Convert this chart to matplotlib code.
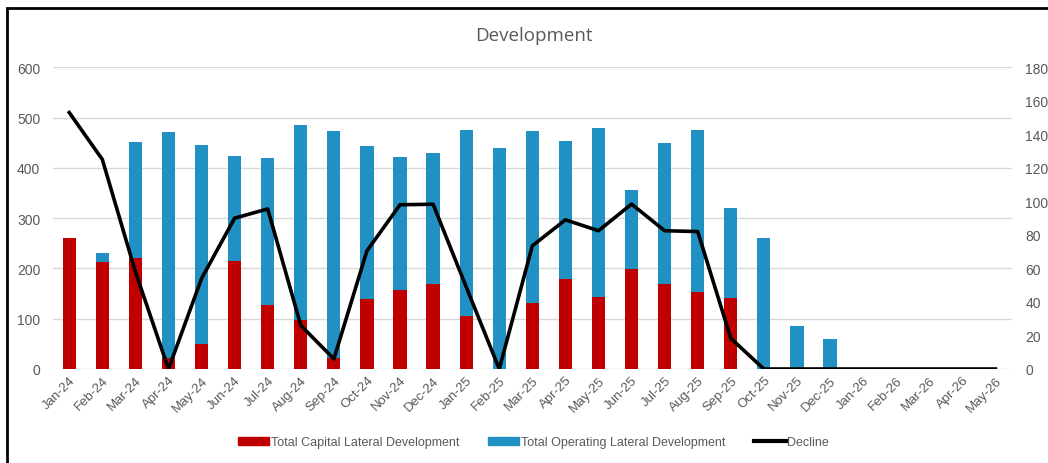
import matplotlib.pyplot as plt
import matplotlib.patches as mpatches
from matplotlib.lines import Line2D
import numpy as np

months = ['Jan-24', 'Feb-24', 'Mar-24', 'Apr-24', 'May-24', 'Jun-24', 'Jul-24', 'Aug-24',
          'Sep-24', 'Oct-24', 'Nov-24', 'Dec-24', 'Jan-25', 'Feb-25', 'Mar-25', 'Apr-25',
          'May-25', 'Jun-25', 'Jul-25', 'Aug-25', 'Sep-25', 'Oct-25', 'Nov-25', 'Dec-25',
          'Jan-26', 'Feb-26', 'Mar-26', 'Apr-26', 'May-26']

capital = [260, 213, 220, 22, 50, 215, 128, 97, 22, 139, 158, 169, 106, 0, 131, 179,
           143, 199, 170, 153, 142, 0, 0, 0, 0, 0, 0, 0, 0]
total = [260, 231, 452, 472, 446, 424, 419, 485, 473, 444, 421, 430, 476, 440, 473, 454,
         480, 355, 450, 475, 321, 260, 85, 60, 0, 0, 0, 0, 0]
operating = [t - c for t, c in zip(total, capital)]

decline = [153, 125, 58, 0, 54, 90, 95.5, 26, 6, 70.5, 98, 98.3, 49, 0, 73.5, 89,
           82.5, 98.4, 82.5, 82, 18.3, 0, 0, 0, 0, 0, 0, 0, 0]

red = '#C00000'
blue = '#2190C3'
grey = '#595959'

plt.rcParams['font.family'] = ['Liberation Sans', 'DejaVu Sans']

fig = plt.figure(figsize=(10.48, 4.64), dpi=100)
ax = fig.add_axes([0.0503, 0.2026, 0.9153, 0.6502])
x = np.arange(len(months))

ax.bar(x, capital, width=0.4, color=red, zorder=2)
ax.bar(x, operating, width=0.4, bottom=capital, color=blue, zorder=2)
ax.set_xlim(-0.5, len(months) - 0.5)
ax.set_ylim(0, 600)
ax.set_yticks(range(0, 601, 100))
ax.grid(axis='y', color='#d9d9d9', linewidth=1, zorder=0)
ax.set_axisbelow(True)
for s in ax.spines.values():
    s.set_visible(False)
ax.tick_params(axis='both', length=0, colors=grey, labelsize=10)
ax.tick_params(axis='y', pad=9)
ax.set_xticks(x)
ax.set_xticklabels(months, rotation=45, ha='right', rotation_mode='anchor', fontsize=9.5)

ax2 = ax.twinx()
ax2.plot(x, decline, color='black', linewidth=2.6, zorder=3)
ax2.set_ylim(0, 180)
ax2.set_yticks(range(0, 181, 20))
for s in ax2.spines.values():
    s.set_visible(False)
ax2.tick_params(axis='y', length=0, colors=grey, labelsize=10, pad=9.5)

fig.text(0.509, 0.922, 'Development', ha='center', va='center', fontsize=13.5, color=grey,
         family=['Open Sans', 'DejaVu Sans'])

handles = [mpatches.Patch(color=red, label='Total Capital Lateral Development'),
           mpatches.Patch(color=blue, label='Total Operating Lateral Development'),
           Line2D([0], [0], color='black', linewidth=3, label='Decline')]
fig.legend(handles=handles, loc='center', bbox_to_anchor=(0.509, 0.045), ncol=3,
           frameon=False, fontsize=9, labelcolor=grey, handlelength=2.5, handleheight=0.6,
           handletextpad=0.15, columnspacing=2.3)

frame = mpatches.Rectangle((7 / 1048, -0.1), 1.2, 1 - 9 / 464 + 0.1, transform=fig.transFigure,
                           fill=False, edgecolor='black', linewidth=2)
fig.patches.append(frame)

fig.savefig('out.png', dpi=100)
